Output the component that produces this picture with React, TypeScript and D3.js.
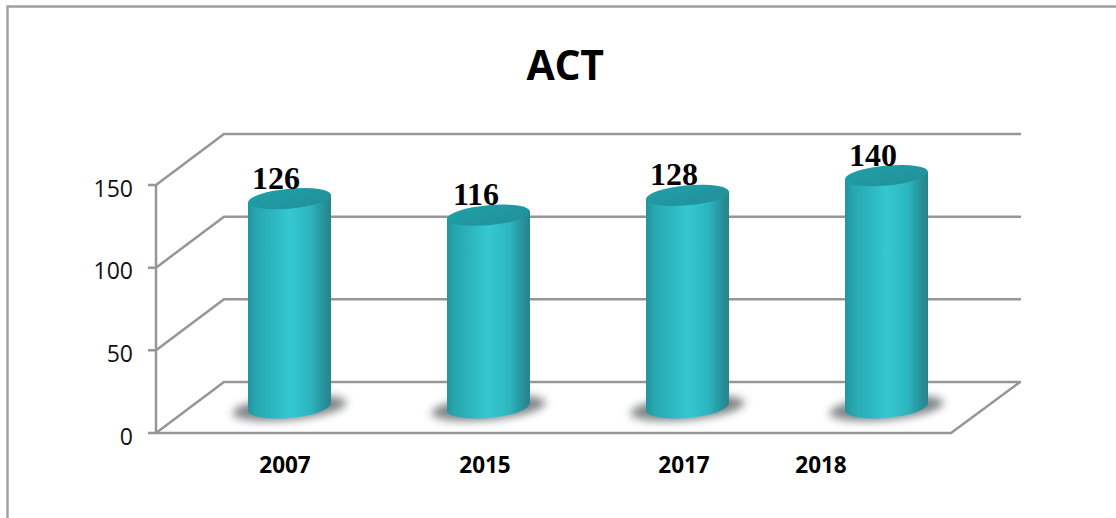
import React from 'react';
import * as d3 from 'd3';

const categories = ['2007', '2015', '2017', '2018'];
const values = [126, 116, 128, 140];
const yTicks = [0, 50, 100, 150];
const titleText = 'ACT';

const W = 1116, H = 518;
const depthX = 68, depthY = -51;
const frontLeft = 156, frontRight = 951;
const y = d3.scaleLinear().domain([0, 150]).range([433, 185]);
const barY = d3.scaleLinear().domain([0, 150]).range([407, 159]);
const x = d3.scalePoint<string>().domain(categories).range([289.5, 886.5]);
const labelNudge = [-4.5, -3.5, -3.5, -65.5];
const valueNudge = [-13.5, -12.5, -13.5, -13.5];
const rx = 41.5, ry = 10, tilt = -5;
const lineColor = '#969696';

export default function App() {
  const sideBottom = y(0);
  return (
    <svg width={W} height={H} style={{ position: 'absolute', left: 0, top: 0, background: '#fff' }}>
      <defs>
        <linearGradient id="cyl" x1="0" x2="1" y1="0" y2="0">
          <stop offset="0" stopColor="#21959e" />
          <stop offset="0.1" stopColor="#27a7b0" />
          <stop offset="0.3" stopColor="#2cb6bf" />
          <stop offset="0.5" stopColor="#35c8d2" />
          <stop offset="0.75" stopColor="#2cb6bf" />
          <stop offset="0.92" stopColor="#279099" />
          <stop offset="1" stopColor="#2a828b" />
        </linearGradient>
        <linearGradient id="cap" x1="0" x2="1" y1="0" y2="1">
          <stop offset="0" stopColor="#1fa0a9" />
          <stop offset="1" stopColor="#228f98" />
        </linearGradient>
        <filter id="blur" x="-30%" y="-60%" width="160%" height="220%">
          <feGaussianBlur stdDeviation="4" />
        </filter>
      </defs>

      <path d={`M7.5,518V6.5H${W}`} fill="none" stroke="#a0a0a0" strokeWidth={2.4} />

      <text x={565} y={80} textAnchor="middle" fontFamily="'Open Sans', sans-serif" fontWeight={700} fontSize={41} letterSpacing={-0.4} fill="#000">
        {titleText}
      </text>

      {yTicks.map(t => (
        <g key={t}>
          <path
            d={`M${frontLeft - 8},${y(t)}H${frontLeft}L${frontLeft + depthX},${y(t) + depthY}H1021`}
            fill="none"
            stroke={lineColor}
            strokeWidth={2.5}
          />
          <text x={133} y={y(t) + 11.5} textAnchor="end" fontFamily="'Open Sans', sans-serif" fontSize={23} fill="#111">
            {t}
          </text>
        </g>
      ))}
      <path
        d={`M${frontLeft},${y(150)}V${sideBottom}H${frontRight}L1020,${sideBottom + depthY}`}
        fill="none"
        stroke={lineColor}
        strokeWidth={2.5}
      />

      {categories.map((c, i) => {
        const cx = x(c) as number;
        const top = barY(values[i]);
        const bottom = barY(0);
        return (
          <g key={c}>
            <g transform={`translate(${cx},0) skewY(${tilt})`}>
              <ellipse cx={0} cy={bottom + 1} rx={57} ry={12} fill="#74787c" opacity={0.9} filter="url(#blur)" />
              <ellipse cx={0} cy={bottom} rx={rx} ry={ry + 1} fill="url(#cyl)" />
              <rect x={-rx} y={top} width={rx * 2} height={bottom - top} fill="url(#cyl)" />
              <ellipse cx={0} cy={top} rx={rx} ry={ry} fill="url(#cap)" />
            </g>
            <text
              x={cx + valueNudge[i]}
              y={top - 10}
              textAnchor="middle"
              fontFamily="'Liberation Serif', serif"
              fontWeight={700}
              fontSize={32}
              fill="#000"
            >
              {values[i]}
            </text>
            <text
              x={cx + labelNudge[i]}
              y={473}
              textAnchor="middle"
              fontFamily="'Open Sans', sans-serif"
              fontWeight={700}
              fontSize={22.5}
              fill="#000"
            >
              {c}
            </text>
          </g>
        );
      })}
    </svg>
  );
}
